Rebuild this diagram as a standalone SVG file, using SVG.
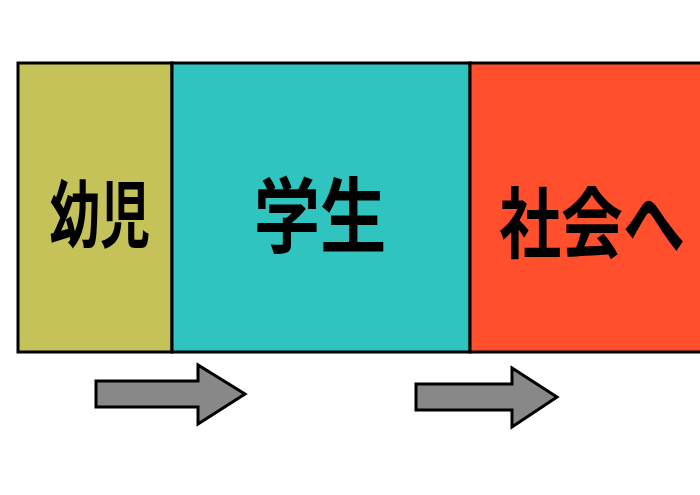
<svg xmlns="http://www.w3.org/2000/svg" width="700" height="495" viewBox="0 0 700 495">
<style>
.box{stroke:#000;stroke-width:3}
.t{font-family:"Noto Sans CJK JP",sans-serif;font-weight:700;fill:#000;text-anchor:middle}
.arr{fill:#888;stroke:#000;stroke-width:3;stroke-linejoin:miter}
</style>
<rect width="700" height="495" fill="#fff"/>
<g id="n1"><rect class="box" x="18" y="63" width="154" height="289" fill="#C4C259"/>
<text class="t" font-size="66" transform="translate(100,241) scale(0.76,1.1)">幼児</text></g>
<g id="n2"><rect class="box" x="172" y="63" width="298" height="289" fill="#2FC4C0"/>
<text class="t" font-size="78" transform="translate(320,246) scale(0.85,1.05)">学生</text></g>
<g id="n3"><rect class="box" x="470" y="63" width="240" height="289" fill="#FF4F2C"/>
<text class="t" font-size="72" transform="translate(592,252) scale(0.86,1.08)">社会へ</text></g>
<g id="connectors">
<path class="arr" d="M96,381 H198 V365 L245,394 L198,424 V407 H96 Z"/>
<path class="arr" d="M416,384 H512 V368 L557,397 L512,427 V410 H416 Z"/>
</g>
</svg>
